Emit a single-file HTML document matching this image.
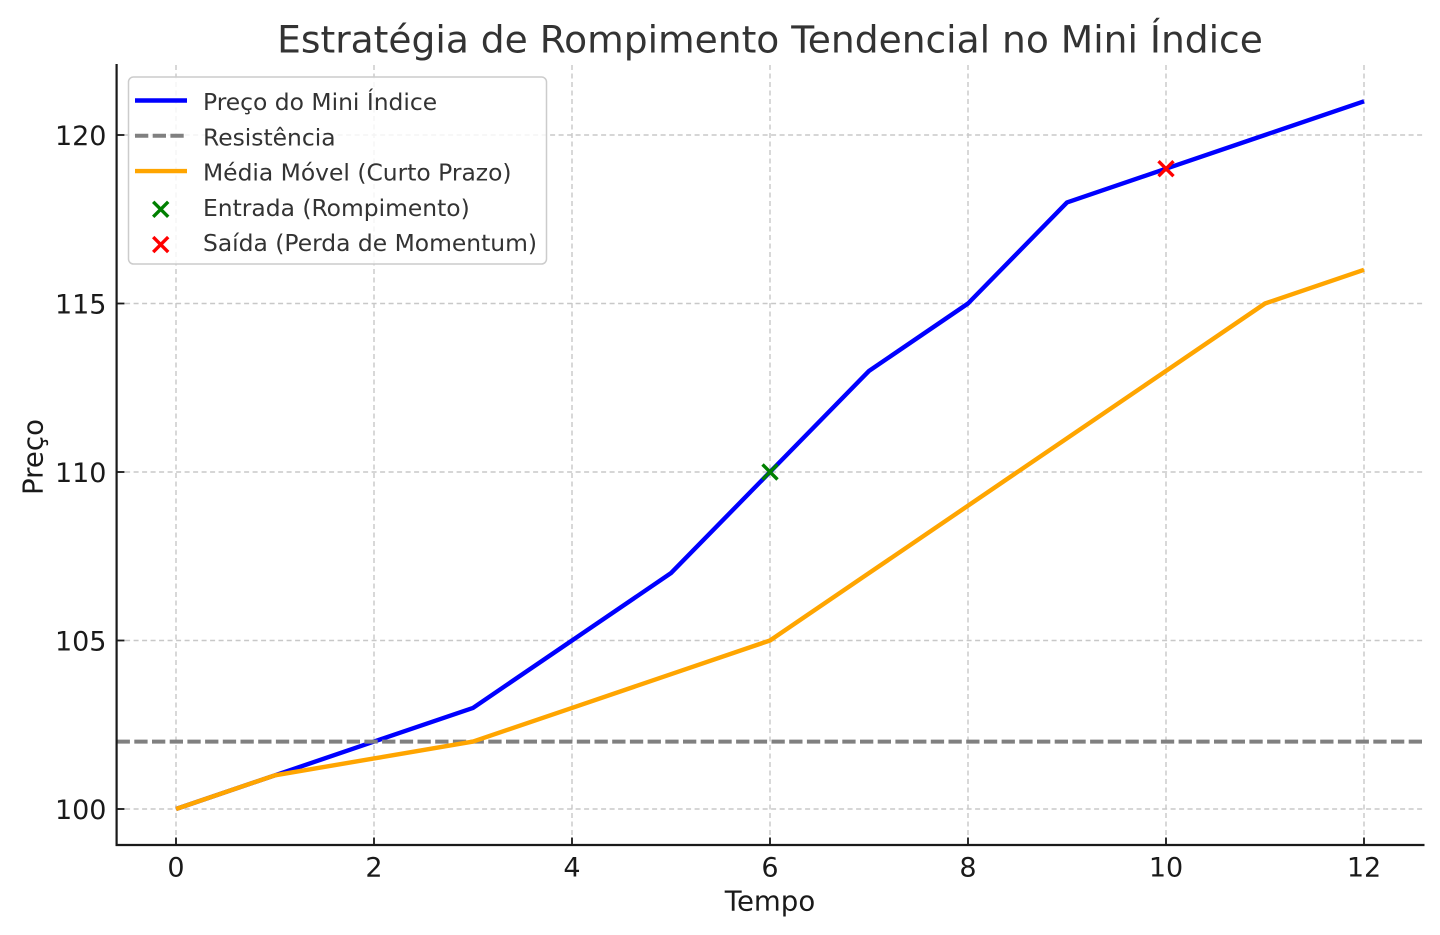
<!DOCTYPE html>
<html>
<head>
<meta charset="utf-8">
<style>
  html, body { margin: 0; padding: 0; background: #ffffff; }
  svg { display: block; }
  text { font-family: "DejaVu Sans", "Liberation Sans", sans-serif; }
</style>
</head>
<body>
<svg width="1440" height="935" viewBox="0 0 1440 935" xmlns="http://www.w3.org/2000/svg">
  <rect x="0" y="0" width="1440" height="935" fill="#ffffff"/>

  <!-- grid -->
  <g stroke="#c8c8c8" stroke-width="1.4" stroke-dasharray="5,3.5" fill="none">
    <line x1="176" y1="65" x2="176" y2="845"/>
    <line x1="374" y1="65" x2="374" y2="845"/>
    <line x1="572" y1="65" x2="572" y2="845"/>
    <line x1="770" y1="65" x2="770" y2="845"/>
    <line x1="968" y1="65" x2="968" y2="845"/>
    <line x1="1166" y1="65" x2="1166" y2="845"/>
    <line x1="1364" y1="65" x2="1364" y2="845"/>
    <line x1="116.6" y1="135" x2="1424" y2="135"/>
    <line x1="116.6" y1="303.5" x2="1424" y2="303.5"/>
    <line x1="116.6" y1="472" x2="1424" y2="472"/>
    <line x1="116.6" y1="640.5" x2="1424" y2="640.5"/>
    <line x1="116.6" y1="809" x2="1424" y2="809"/>
  </g>

  <!-- price line -->
  <polyline fill="none" stroke="#0000ff" stroke-width="4.4" stroke-linejoin="round" stroke-linecap="butt"
    points="176,809 275,775.3 374,741.6 473,707.9 572,640.5 671,573.1 770,472 869,370.9 968,303.5 1067,202.4 1166,168.7 1265,135 1364,101.3"/>

  <!-- resistance -->
  <line x1="116.6" y1="741.6" x2="1424" y2="741.6" stroke="#808080" stroke-width="4" stroke-dasharray="13.3,4.4"/>

  <!-- moving average -->
  <polyline fill="none" stroke="#ffa500" stroke-width="4.4" stroke-linejoin="round" stroke-linecap="butt"
    points="176,809 275,775.3 374,758.45 473,741.6 572,707.9 671,674.2 770,640.5 869,573.1 968,505.7 1067,438.3 1166,370.9 1265,303.5 1364,269.8"/>

  <!-- markers -->
  <g stroke="#008000" stroke-width="3.4">
    <line x1="762.5" y1="464.5" x2="777.5" y2="479.5"/>
    <line x1="762.5" y1="479.5" x2="777.5" y2="464.5"/>
  </g>
  <g stroke="#ff0000" stroke-width="3.4">
    <line x1="1158.5" y1="161.2" x2="1173.5" y2="176.2"/>
    <line x1="1158.5" y1="176.2" x2="1173.5" y2="161.2"/>
  </g>

  <!-- spines -->
  <line x1="116.6" y1="64" x2="116.6" y2="846" stroke="#1a1a1a" stroke-width="2.2"/>
  <line x1="115.6" y1="845" x2="1424.5" y2="845" stroke="#1a1a1a" stroke-width="2.2"/>

  <!-- ticks (inward) -->
  <g stroke="#1a1a1a" stroke-width="1.8">
    <line x1="176" y1="845" x2="176" y2="837.5"/>
    <line x1="374" y1="845" x2="374" y2="837.5"/>
    <line x1="572" y1="845" x2="572" y2="837.5"/>
    <line x1="770" y1="845" x2="770" y2="837.5"/>
    <line x1="968" y1="845" x2="968" y2="837.5"/>
    <line x1="1166" y1="845" x2="1166" y2="837.5"/>
    <line x1="1364" y1="845" x2="1364" y2="837.5"/>
    <line x1="116.6" y1="135" x2="124.5" y2="135"/>
    <line x1="116.6" y1="303.5" x2="124.5" y2="303.5"/>
    <line x1="116.6" y1="472" x2="124.5" y2="472"/>
    <line x1="116.6" y1="640.5" x2="124.5" y2="640.5"/>
    <line x1="116.6" y1="809" x2="124.5" y2="809"/>
  </g>

  <!-- tick labels -->
  <g font-size="27" fill="#1a1a1a" text-anchor="middle">
    <text x="176" y="876.5">0</text>
    <text x="374" y="876.5">2</text>
    <text x="572" y="876.5">4</text>
    <text x="770" y="876.5">6</text>
    <text x="968" y="876.5">8</text>
    <text x="1166" y="876.5">10</text>
    <text x="1364" y="876.5">12</text>
  </g>
  <g font-size="27" fill="#1a1a1a" text-anchor="end">
    <text x="106.5" y="144.8">120</text>
    <text x="106.5" y="313.3">115</text>
    <text x="106.5" y="481.8">110</text>
    <text x="106.5" y="650.3">105</text>
    <text x="106.5" y="818.8">100</text>
  </g>

  <!-- axis labels -->
  <text x="770" y="910.5" font-size="27.6" fill="#1a1a1a" text-anchor="middle">Tempo</text>
  <text transform="translate(42.5,457) rotate(-90)" x="0" y="0" font-size="27.6" fill="#1a1a1a" text-anchor="middle">Preço</text>

  <!-- title -->
  <text x="770" y="52.5" font-size="37.6" fill="#333333" text-anchor="middle">Estratégia de Rompimento Tendencial no Mini Índice</text>

  <!-- legend -->
  <rect x="128.5" y="77" width="418" height="187" rx="5" ry="5" fill="#ffffff" fill-opacity="0.8" stroke="#cccccc" stroke-width="1.5"/>
  <line x1="135" y1="100.5" x2="187" y2="100.5" stroke="#0000ff" stroke-width="4.4"/>
  <line x1="135" y1="135.8" x2="187" y2="135.8" stroke="#808080" stroke-width="4" stroke-dasharray="13.3,4.4"/>
  <line x1="135" y1="171.1" x2="187" y2="171.1" stroke="#ffa500" stroke-width="4.4"/>
  <g stroke="#008000" stroke-width="3.4">
    <line x1="153.2" y1="201.8" x2="168.2" y2="216.8"/>
    <line x1="153.2" y1="216.8" x2="168.2" y2="201.8"/>
  </g>
  <g stroke="#ff0000" stroke-width="3.4">
    <line x1="153.2" y1="237.1" x2="168.2" y2="252.1"/>
    <line x1="153.2" y1="252.1" x2="168.2" y2="237.1"/>
  </g>
  <g font-size="23.4" fill="#333333">
    <text x="203" y="110">Preço do Mini Índice</text>
    <text x="203" y="145.3">Resistência</text>
    <text x="203" y="180.6">Média Móvel (Curto Prazo)</text>
    <text x="203" y="215.9">Entrada (Rompimento)</text>
    <text x="203" y="251.2">Saída (Perda de Momentum)</text>
  </g>
</svg>
</body>
</html>
